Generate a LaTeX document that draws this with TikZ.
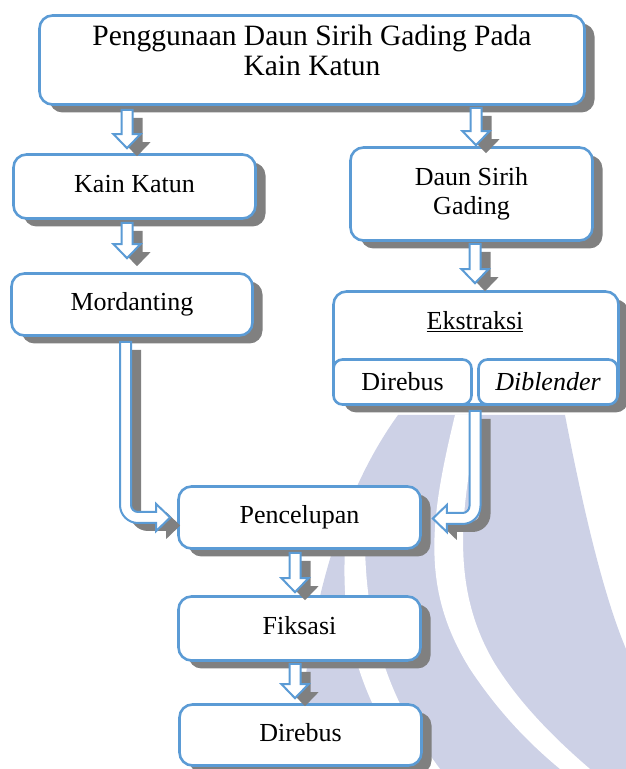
\documentclass[tikz,border=0pt]{standalone}
\usepackage{fontspec}
\setmainfont{Liberation Serif}
\usepackage{tikz}
\usetikzlibrary{shapes.geometric, arrows.meta, positioning, shadows, calc}

\definecolor{boxblue}{RGB}{91,155,213}
\definecolor{shadowgray}{RGB}{128,128,128}
\definecolor{markblue}{RGB}{205,209,230}

\begin{document}
\begin{tikzpicture}[
        x=1pt, y=1pt,
        font=\fontsize{26}{30}\selectfont,
        box/.style={draw=boxblue, line width=2.6pt, rectangle, rounded corners=13pt, fill=white, align=center, inner sep=0pt,
            drop shadow={shadow xshift=10pt, shadow yshift=-8pt, fill=shadowgray, opacity=1}},
        oneline/.style={text height=18pt, text depth=5pt},
        subbox/.style={draw=boxblue, line width=2.6pt, rectangle, rounded corners=9pt, fill=white, align=center, inner sep=0pt},
        blockarrow/.style={draw=boxblue, line width=2pt, fill=white, line join=miter,
            drop shadow={shadow xshift=10pt, shadow yshift=-8pt, fill=shadowgray, opacity=1}},
        downarrow/.style n args={3}{blockarrow, to path={
            ($(\tikztotarget |- \tikztostart)+(#1-5.5,#2)$) -- ($(\tikztotarget)+(#1-5.5,#3+14)$) -- ($(\tikztotarget)+(#1-13.5,#3+14)$)
            -- ($(\tikztotarget)+(#1,#3)$) -- ($(\tikztotarget)+(#1+13.5,#3+14)$) -- ($(\tikztotarget)+(#1+5.5,#3+14)$)
            -- ($(\tikztotarget |- \tikztostart)+(#1+5.5,#2)$) -- cycle}}
    ]
        \useasboundingbox (0,0) rectangle (626,769);

        % Watermark
        \fill[markblue] (398,354) -- (565,354) .. controls (585,250) and (605,170) .. (626,120) -- (626,0) -- (300,0)
            .. controls (300,120) and (330,260) .. (398,354) -- cycle;
        \fill[white] (455,354) .. controls (430,250) and (420,180) .. (470,100) .. controls (500,55) and (530,25) .. (560,0)
            -- (590,0) .. controls (555,30) and (520,65) .. (495,105) .. controls (450,180) and (460,260) .. (480,354) -- cycle;
        \fill[white] (345,220) .. controls (340,120) and (370,60) .. (410,0) -- (440,0)
            .. controls (395,60) and (365,130) .. (365,230) -- cycle;

        % Top box
        \node (title) [box, minimum width=545pt, minimum height=89pt, font=\fontsize{29.5}{30}\selectfont, text depth=19pt] at (312,709)
            {Penggunaan Daun Sirih Gading Pada\\Kain Katun};

        % Left branch
        \node (kain) [box, oneline, minimum width=242pt, minimum height=64pt] at (134.5,582.5) {Kain Katun};
        \node (mord) [box, oneline, minimum width=241pt, minimum height=62pt] at (132,464.5) {Mordanting};

        % Right branch
        \node (daun) [box, minimum width=242pt, minimum height=93pt, font=\fontsize{26}{29}\selectfont] at (471.5,575) {Daun Sirih\\Gading};
        \node (ekstr) [box, minimum width=285pt, minimum height=113pt] at (476,421) {};
        \node (ekstrtitle) at (475,447) {\underline{Ekstraksi}};
        \node (rebus1) [subbox, minimum width=138pt, minimum height=45pt] at (402.5,387) {Direbus};
        \node (blender) [subbox, minimum width=139pt, minimum height=45pt] at (548,387) {\textit{Diblender}};

        % Process
        \node (pencel) [box, oneline, minimum width=242pt, minimum height=62pt] at (299.5,251.5) {Pencelupan};
        \node (fiks) [box, oneline, minimum width=242pt, minimum height=64pt] at (299.5,140.5) {Fiksasi};
        \node (rebus2) [box, oneline, minimum width=242pt, minimum height=61pt] at (300.5,34) {Direbus};

        % Connections
        \draw[downarrow={-7.5}{-4}{5}] (title.south -| kain.north) to (kain.north);
        \draw[downarrow={4.5}{-2}{1}] (title.south -| daun.north) to (daun.north);
        \draw[downarrow={-5}{-3}{14}] (kain.south) to (mord.north);
        \draw[downarrow={-1}{-2}{7}] (daun.south) to (ekstr.north);
        \draw[downarrow={-4.5}{-3}{3}] (pencel.south) to (fiks.north);
        \draw[downarrow={-5.5}{-2}{5}] (fiks.south) to (rebus2.north);

        \draw[blockarrow] let \p1=($(mord.south)+(-6.5,-5)$), \p2=($(pencel.west)+(-7,0)$) in
            (\x1-5.5pt,\y1) -- (\x1-5.5pt,\y2+12.5pt) arc[start angle=180, end angle=270, radius=18pt]
            -- (\x2-14pt,\y2-5.5pt) -- (\x2-14pt,\y2-13.5pt) -- (\p2) -- (\x2-14pt,\y2+13.5pt) -- (\x2-14pt,\y2+5.5pt)
            -- (\x1+12.5pt,\y2+5.5pt) arc[start angle=270, end angle=180, radius=7pt] -- (\x1+5.5pt,\y1) -- cycle;
        \draw[blockarrow] let \p1=($(ekstr.south)+(-1,-5)$), \p2=($(pencel.east)+(11,-1)$) in
            (\x1+5.5pt,\y1) -- (\x1+5.5pt,\y2+12.5pt) arc[start angle=0, end angle=-90, radius=18pt]
            -- (\x2+14pt,\y2-5.5pt) -- (\x2+14pt,\y2-13.5pt) -- (\p2) -- (\x2+14pt,\y2+13.5pt) -- (\x2+14pt,\y2+5.5pt)
            -- (\x1-12.5pt,\y2+5.5pt) arc[start angle=270, end angle=360, radius=7pt] -- (\x1-5.5pt,\y1) -- cycle;
    \end{tikzpicture}
\end{document}
